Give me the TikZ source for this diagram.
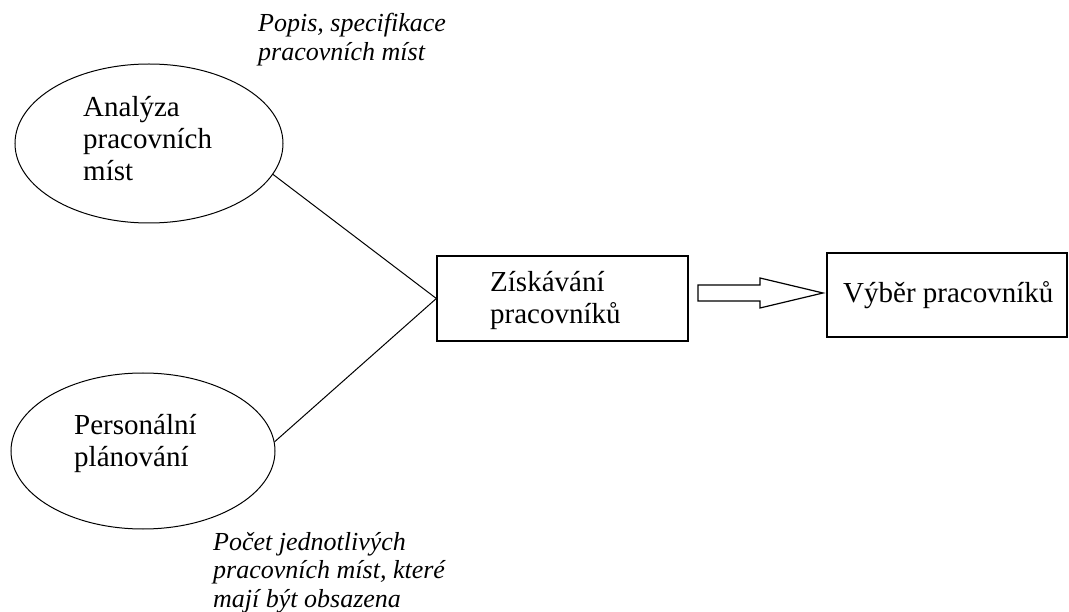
\documentclass[tikz,border=0pt]{standalone}
\usepackage{fontspec}
\setmainfont{Liberation Serif}
\usetikzlibrary{shapes.geometric,calc}
\tikzset{
  ell/.style={draw, ellipse, line width=1pt, inner sep=0pt},
  boxnode/.style={draw, rectangle, line width=1.3pt, inner sep=0pt},
  maintxt/.style={anchor=base west, inner sep=0pt, font=\fontsize{29}{32}\selectfont},
  notetxt/.style={anchor=base west, inner sep=0pt, font=\fontsize{26}{28.5}\selectfont\itshape},
  conn/.style={line width=1pt},
  fat/.style={draw, line width=1.2pt, fill=white}
}
\begin{document}
\begin{tikzpicture}[x=1pt,y=-1pt]
\useasboundingbox (0,0) rectangle (1069,612);
% ellipses
\node[ell, minimum width=268pt, minimum height=159pt] (e1) at (149,143.5) {};
\node[ell, minimum width=264pt, minimum height=156pt] (e2) at (143,451) {};
\node[maintxt] (t1) at (83,117) {\begin{tabular}[t]{@{}l@{}}Analýza\\pracovních\\míst\end{tabular}};
\node[maintxt] (t2) at (74,435) {\begin{tabular}[t]{@{}l@{}}Personální\\plánování\end{tabular}};
% boxes
\node[boxnode, minimum width=251pt, minimum height=85pt] (b1) at (562.5,298.5) {};
\node[boxnode, minimum width=240pt, minimum height=84pt] (b2) at (947,295) {};
\node[maintxt] (t3) at (490,292) {\begin{tabular}[t]{@{}l@{}}Získávání\\pracovníků\end{tabular}};
\node[maintxt] (t4) at (843,303) {Výběr pracovníků};
% notes
\node[notetxt] (n1) at (258,32) {\begin{tabular}[t]{@{}l@{}}Popis, specifikace\\pracovních míst\end{tabular}};
\node[notetxt] (n2) at (213,550) {\begin{tabular}[t]{@{}l@{}}Počet jednotlivých\\pracovních míst, které\\mají být obsazena\end{tabular}};
% connectors
\draw[conn] (e1.-14) -- (b1.west);
\draw[conn] (e2.4) -- (b1.west);
% fat arrow
\coordinate (a0) at (698,293);
\coordinate (a1) at (823,293);
\draw[fat] ($(a0)+(0,-8)$) -- (760,285) -- (760,278) -- (a1) -- (760,308) -- (760,301) -- ($(a0)+(0,8)$) -- cycle;
\end{tikzpicture}
\end{document}
